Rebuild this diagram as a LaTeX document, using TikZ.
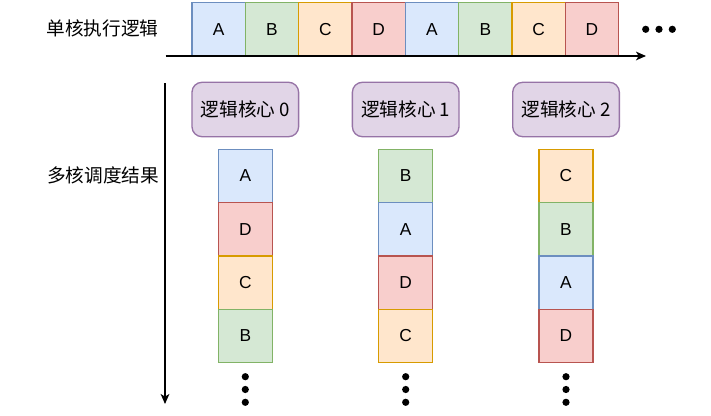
\documentclass[tikz,border=0pt]{standalone}
\usepackage{fontspec}
\setmainfont{Liberation Sans}
\newfontfamily\cjk{Noto Sans CJK SC}
\usetikzlibrary{arrows.meta}
\definecolor{bfill}{HTML}{DAE8FC}\definecolor{bline}{HTML}{6C8EBF}
\definecolor{gfill}{HTML}{D5E8D4}\definecolor{gline}{HTML}{82B366}
\definecolor{ofill}{HTML}{FFE6CC}\definecolor{oline}{HTML}{D79B00}
\definecolor{rfill}{HTML}{F8CECC}\definecolor{rline}{HTML}{B85450}
\definecolor{pfill}{HTML}{E1D5E7}\definecolor{pline}{HTML}{9673A6}
\tikzset{
  task/.style={draw, line width=1pt, inner sep=0pt, outer sep=0pt, font=\fontsize{13}{15}\selectfont},
  tA/.style={task, fill=bfill, draw=bline},
  tB/.style={task, fill=gfill, draw=gline},
  tC/.style={task, fill=ofill, draw=oline},
  tD/.style={task, fill=rfill, draw=rline},
  topbox/.style={minimum width=40pt, minimum height=40pt},
  colbox/.style={minimum width=40.5pt, minimum height=40pt},
  corebox/.style={draw=pline, fill=pfill, line width=1pt, rounded corners=7.5pt, minimum width=80pt, minimum height=40.8pt, inner sep=0pt, font=\cjk\fontsize{14}{16}\selectfont},
  lbl/.style={inner sep=0pt, font=\cjk\fontsize{14}{16}\selectfont},
  dot/.style={circle, fill=black, inner sep=0pt, minimum size=5.4pt},
  axis/.style={line width=1pt, -{Stealth[length=7.5pt, width=6.5pt, inset=2pt]}}
}
\begin{document}
\begin{tikzpicture}[x=0.75pt, y=-0.75pt]
\useasboundingbox (0,0) rectangle (711,416);
% top row
\foreach \t [count=\i from 0] in {A,B,C,D,A,B,C,D} {
  \node[t\t, topbox] (top\i) at ({192+53.33*(\i+0.5)}, 29.3) {\t};
}
\node[dot] (td1) at (645.7,29.3) {};
\node[dot] (td2) at (659,29.3) {};
\node[dot] (td3) at (672.3,29.3) {};
\node[lbl] (lab1) at (102.5,28.5) {单核执行逻辑};
\coordinate (hx0) at (165.7,56);
\coordinate (hx1) at (646,56);
\draw[axis] (hx0) -- (hx1);
% left axis
\coordinate (vy0) at (165,83.3);
\coordinate (vy1) at (165,404);
\draw[axis] (vy0) -- (vy1);
\node[lbl] (lab2) at (103,175) {多核调度结果};
% cores
\node[corebox] (core0) at (245.3,109.5) {逻辑核心 0};
\node[corebox] (core1) at (405.7,109.5) {逻辑核心 1};
\node[corebox] (core2) at (566,109.5) {逻辑核心 2};
% columns
\foreach \cx/\lst [count=\c from 0] in {245.3/{A,D,C,B}, 405.7/{B,A,D,C}, 566/{C,B,A,D}} {
  \foreach \t [count=\j from 0] in \lst {
    \node[t\t, colbox] (c\c r\j) at (\cx, {176+53.33*\j}) {\t};
  }
  \node[dot] (c\c d1) at (\cx,376.7) {};
  \node[dot] (c\c d2) at (\cx,389.5) {};
  \node[dot] (c\c d3) at (\cx,402.3) {};
}
\end{tikzpicture}
\end{document}
